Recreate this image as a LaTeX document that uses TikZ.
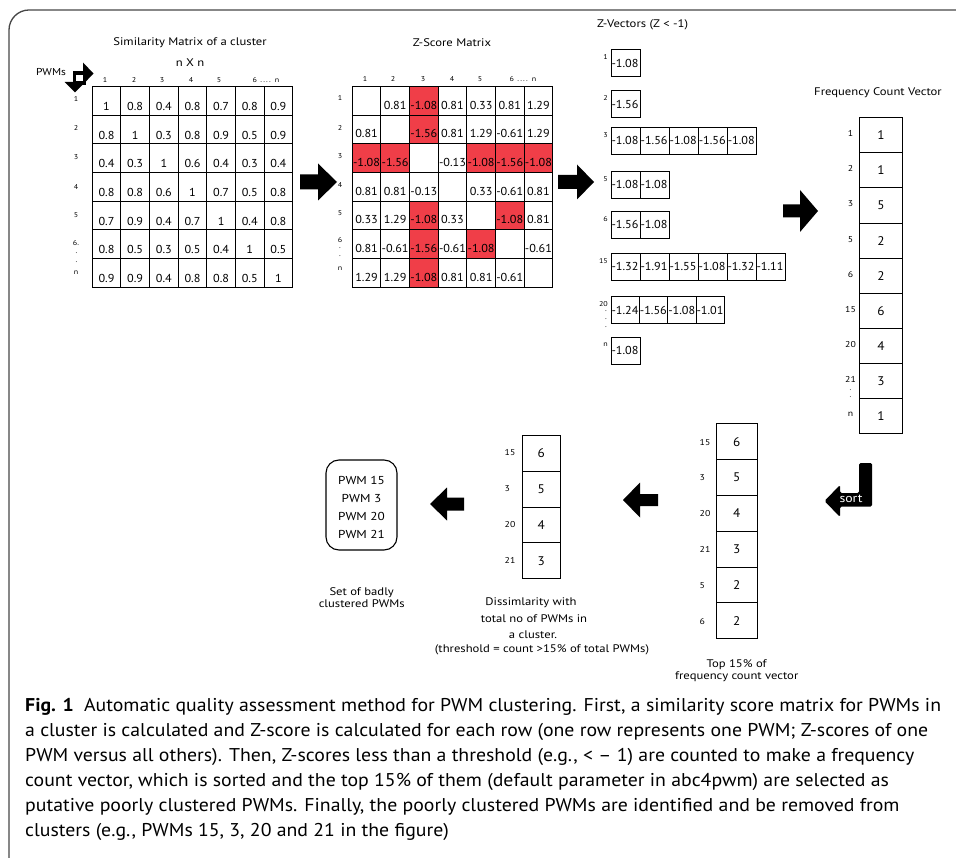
\documentclass[tikz,border=0pt]{standalone}
\usepackage{fontspec}
\setmainfont[FakeStretch=1.15]{PT Sans}
\newfontfamily\numfont[FakeStretch=1.06]{PT Sans}
\newfontfamily\capfont[FakeStretch=1.07,Ligatures=TeX]{PT Sans}
\definecolor{zred}{RGB}{240,62,72}
\definecolor{framegray}{RGB}{70,70,70}

% block arrow: tail x, tip x, axis y, head base x, head half width, shaft half width
\newcommand\blockarrow[6]{%
  \fill (#1,#3-#6) -- (#4,#3-#6) -- (#4,#3-#5) -- (#2,#3) -- (#4,#3+#5)
        -- (#4,#3+#6) -- (#1,#3+#6) -- cycle;}

\begin{document}
\begin{tikzpicture}[x=1pt,y=-1pt,
  every node/.style={inner sep=0pt},
  ttl/.style={font=\fontsize{11}{13}\selectfont},
  lbl/.style={font=\fontsize{11}{13}\selectfont, align=center},
  tiny/.style={font=\fontsize{7}{8}\selectfont},
  idx/.style={font=\fontsize{8.5}{10}\selectfont},
  grid/.style={draw=black, line width=1pt},
  mcell/.style={grid, anchor=north west, minimum width=28.65pt, minimum height=28.65pt,
                text height=19.5pt, text depth=0pt, font=\numfont\fontsize{11.5}{12}\selectfont},
  zcell/.style={mcell, text height=17pt},
  vcell/.style={grid, anchor=north west, align=left, minimum height=27pt, inner xsep=0.4pt,
                font=\numfont\fontsize{11.5}{12}\selectfont},
  fcell/.style={grid, anchor=north west, minimum width=43pt, minimum height=35.08pt,
                font=\numfont\fontsize{12.5}{14}\selectfont},
  tcell/.style={grid, anchor=north west, minimum width=40.7pt, minimum height=35.83pt,
                font=\numfont\fontsize{12.5}{14}\selectfont},
  dcell/.style={grid, anchor=north west, minimum width=38.3pt, minimum height=35.8pt,
                font=\numfont\fontsize{12.5}{14}\selectfont},
]
\useasboundingbox (0,0) rectangle (956,858);

% outer frame
\draw[framegray, line width=1.3pt, rounded corners=20pt] (9,858) -- (9,10) -- (956,10);

% ---------- similarity matrix ----------
\node[ttl] (simtitle) at (190,43) {Similarity Matrix of a cluster};
\node[ttl] (simsize) at (190,63) {n X n};
\node[font=\fontsize{10}{12}\selectfont] (pwms) at (51,72) {PWMs};
% turning arrow beside the PWMs label
\draw[line width=3.5pt] (74.5,73) rectangle (84.5,83);
\fill (83,62.5) -- (93.5,73.5) -- (83,84.5) -- cycle;
\fill (64.5,82) -- (75,92.5) -- (85.5,82) -- cycle;

\foreach \x/\t in {105/1,134/2,162/3,191/4,219/5} \node[tiny] at (\x,80) {\t};
\node[tiny] (simcoln) at (266,80) {6 \,.\,.\,.\,.\, n};
\foreach \y/\t in {99/1,128/2,157/3,187/4,215/5,243/6.} \node[tiny] at (76,\y) {\t};
\node[tiny] at (76.5,253) {.};
\node[tiny] at (76.5,262) {.};
\node[tiny] at (76,273) {n};

\foreach \row [count=\r] in {{1,0.8,0.4,0.8,0.7,0.8,0.9},{0.8,1,0.3,0.8,0.9,0.5,0.9},
    {0.4,0.3,1,0.6,0.4,0.3,0.4},{0.8,0.8,0.6,1,0.7,0.5,0.8},{0.7,0.9,0.4,0.7,1,0.4,0.8},
    {0.8,0.5,0.3,0.5,0.4,1,0.5},{0.9,0.9,0.4,0.8,0.8,0.5,1}} {
  \foreach \v [count=\c] in \row
    \node[mcell] (s-\r-\c) at ({91.7+28.65*(\c-1)},{86+28.65*(\r-1)}) {\v};
}

\blockarrow{300}{337}{182}{318}{18.5}{7.5}

% ---------- z-score matrix ----------
\node[ttl] (ztitle) at (452,43) {Z-Score Matrix};
\foreach \x/\t in {365/1,393/2,423/3,452/4,480/5} \node[tiny] at (\x,79) {\t};
\node[tiny] (zcoln) at (523,79) {6 \,.\,.\,.\,.\, n};
\foreach \y/\t in {98/1,128/2,156/3,185/4,213/5,240/6} \node[tiny] at (340,\y) {\t};
\node[tiny] at (340,248) {.};
\node[tiny] at (340,256) {.};
\node[tiny] at (340,269) {n};

\foreach \r/\c in {1/3,2/3,3/1,3/2,3/5,3/6,3/7,5/3,5/6,6/3,6/5,7/3}
  \fill[zred] ({351.7+28.65*(\c-1)},{86+28.65*(\r-1)}) rectangle ++(28.65,28.65);

\foreach \row [count=\r] in {{{},0.81,-1.08,0.81,0.33,0.81,1.29},{0.81,{},-1.56,0.81,1.29,-0.61,1.29},
    {-1.08,-1.56,{},-0.13,-1.08,-1.56,-1.08},{0.81,0.81,-0.13,{},0.33,-0.61,0.81},
    {0.33,1.29,-1.08,0.33,{},-1.08,0.81},{0.81,-0.61,-1.56,-0.61,-1.08,{},-0.61},
    {1.29,1.29,-1.08,0.81,0.81,-0.61,{}}} {
  \foreach \v [count=\c] in \row
    \node[zcell] (z-\r-\c) at ({351.7+28.65*(\c-1)},{86+28.65*(\r-1)}) {\v};
}

\blockarrow{558}{594}{182}{577}{17.5}{7}

% ---------- z-vectors ----------
\node[ttl, anchor=west] (vtitle) at (597,25) {Z-Vectors (Z < -1)};
\foreach \lab/\ty/\w/\vals in {1/49.3/29/{-1.08}, 2/90/29/{-1.56},
    3/126.7/29.06/{-1.08,-1.56,-1.08,-1.56,-1.08}, 5/170.7/29/{-1.08,-1.08},
    6/210.7/29/{-1.56,-1.08}, 15/252.7/29/{-1.32,-1.91,-1.55,-1.08,-1.32,-1.11},
    20/296/28.33/{-1.24,-1.56,-1.08,-1.01}, n/336.7/29/{-1.08}} {
  \node[tiny, anchor=east] (vl-\lab) at (608,\ty+8) {\lab};
  \foreach \v [count=\c] in \vals
    \node[vcell, text width=\w pt-0.8pt] (v-\lab-\c) at ({610.7+\w*(\c-1)},\ty) {\mbox{\v}};
}
\foreach \y in {311,319,327} \node[tiny] at (606,\y) {.};

\blockarrow{783}{818}{211}{800}{21}{6.5}

% ---------- frequency count vector ----------
\node[ttl] (ftitle) at (878,93) {Frequency Count Vector};
\foreach \lab/\v [count=\i] in {1/1,2/1,3/5,5/2,6/2,15/6,20/4,21/3,n/1} {
  \node[fcell] (f-\i) at (859,{117.3+35.08*(\i-1)}) {\v};
  \node[idx] (fl-\i) at (850.5,{117.3+35.08*(\i-0.5)-1}) {\lab};
}
\node[tiny] at (850.5,390) {.};
\node[tiny] at (850.5,397) {.};

% sort arrow
\fill[rounded corners=1.5pt] (859,463) -- (872,463) -- (872,506.5) -- (840,506.5) -- (840,517)
  -- (824.5,501) -- (840,485) -- (840,493) -- (859,493) -- cycle;
\node[text=white, font=\fontsize{12}{14}\selectfont] (sort) at (851,499) {sort};

% ---------- top 15% ----------
\foreach \lab/\v [count=\i] in {15/6,3/5,20/4,21/3,5/2,6/2} {
  \node[tcell] (t-\i) at (716,{423.3+35.83*(\i-1)}) {\v};
  \node[idx, anchor=west] (tl-\i) at (699.5,{423.3+35.83*(\i-0.5)+1}) {\lab};
}
\node[lbl] (ttext) at (736.7,671) {Top 15\% of\\[-1.2pt]frequency count vector};

\blockarrow{658}{623}{500}{640}{17.5}{6}

% ---------- dissimilarity ----------
\foreach \lab/\v [count=\i] in {15/6,3/5,20/4,21/3} {
  \node[dcell] (d-\i) at (521.7,{435+35.8*(\i-1)}) {\v};
  \node[idx, anchor=west] (dl-\i) at (504.5,{435+35.8*(\i-0.5)}) {\lab};
}
\node[lbl] (dt1) at (531,603) {Dissimlarity with};
\node[lbl] (dt2) at (534,619) {total no of PWMs in};
\node[lbl] (dt3) at (533,634.5) {a cluster.};
\node[lbl] (dt4) at (542,650) {(threshold = count >15\% of total PWMs)};

\blockarrow{464}{430}{504}{447}{16.5}{6.5}

% ---------- result set ----------
\draw[line width=1.1pt, rounded corners=13pt] (326,460) rectangle (397,550);
\node[lbl, font=\fontsize{11.5}{17.7}\selectfont] (pwmset) at (361.5,507.5) {PWM 15\\PWM 3\\PWM 20\\PWM 21};
\node[lbl] (settext) at (361.7,597.5) {Set of badly\\[-1.2pt]clustered PWMs};

% ---------- caption ----------
\node[anchor=north west, align=left, font=\capfont\fontsize{18.5}{25}\selectfont] (caption) at (25,698)
{\textbf{Fig. 1}\hspace{0.55em}Automatic quality assessment method for PWM clustering. First, a similarity score matrix for PWMs in\\
a cluster is calculated and Z-score is calculated for each row (one row represents one PWM; Z-scores of one\\
PWM versus all others). Then, Z-scores less than a threshold (e.g., < -- 1) are counted to make a frequency\\
count vector, which is sorted and the top 15\% of them (default parameter in abc4pwm) are selected as\\
putative poorly clustered PWMs. Finally, the poorly clustered PWMs are identified and be removed from\\
clusters (e.g., PWMs 15, 3, 20 and 21 in the figure)};
\end{tikzpicture}
\end{document}
